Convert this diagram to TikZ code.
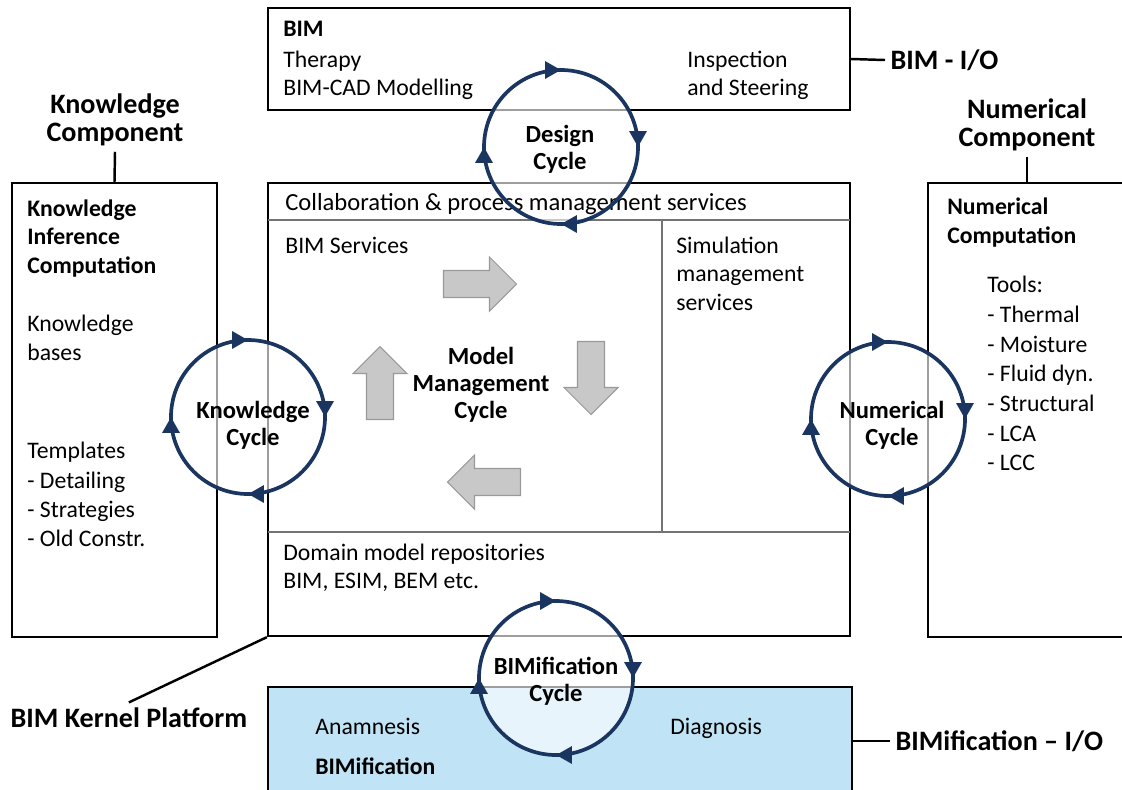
\documentclass[tikz,border=0pt]{standalone}
\usepackage{fontspec}
\setmainfont{Carlito}
\usetikzlibrary{arrows.meta,decorations.markings,fit}

\definecolor{cyclenavy}{HTML}{1B3561}
\definecolor{bimfblue}{HTML}{C0E4F5}
\definecolor{mmgray}{HTML}{C8C8C8}

\tikzset{
  box/.style={draw=black, line width=1.3pt, inner sep=0pt},
  sep/.style={draw=black!55, line width=0.7pt},
  txt/.style={inner sep=0pt, anchor=north west, align=left, font=\fontsize{13.5}{16.3}\selectfont},
  boldtxt/.style={txt, font=\fontsize{13.5}{16.5}\selectfont\bfseries},
  biglabel/.style={inner sep=3pt, align=center, font=\fontsize{16}{16}\selectfont\bfseries},
  leader/.style={line width=1.4pt},
  cyclefill/.style={fill=white, fill opacity=0.62},
  cyclering/.style={draw=cyclenavy, line width=2.1pt, postaction={decorate},
    decoration={markings,
      mark=at position 0.125 with {\arrow{Triangle[length=9pt,width=9.5pt]}},
      mark=at position 0.375 with {\arrow{Triangle[length=9pt,width=9.5pt]}},
      mark=at position 0.625 with {\arrow{Triangle[length=9pt,width=9.5pt]}},
      mark=at position 0.875 with {\arrow{Triangle[length=9pt,width=9.5pt]}}}},
  cyclelabel/.style={inner sep=0pt, align=center, font=\fontsize{14}{15.5}\selectfont\bfseries},
  mmarrow/.pic={
    \draw[fill=mmgray, draw=black!40, line width=0.6pt]
      (-36.5,-13.5) -- (9.5,-13.5) -- (9.5,-27) -- (36.5,0) -- (9.5,27) -- (9.5,13.5) -- (-36.5,13.5) -- cycle;
  }
}

\begin{document}
\begin{tikzpicture}[x=0.02cm, y=-0.02cm]
    \useasboundingbox (0,0) rectangle (1122,789);

    % boxes
    \node[box, fit={(268,8) (850,110)}] (bim) {};
    \node[box, fit={(268,183) (850,636)}] (kernel) {};
    \node[box, fit={(12,183) (217,637)}] (know) {};
    \node[box, fit={(928,183) (1160,637)}] (num) {};
    \node[box, fill=bimfblue, fit={(268,687) (852,830)}] (bimf) {};

    % kernel partitions
    \draw[sep] (268,220) -- (850,220);
    \draw[sep] (268,532) -- (850,532);
    \draw[sep] (662,220) -- (662,532);

    % model management arrows
    \pic at (480,284) {mmarrow};
    \pic[rotate=-90] at (591,378) {mmarrow};
    \pic[rotate=180] at (484,482) {mmarrow};
    \pic[rotate=90] at (380,383) {mmarrow};

    % cycle centres and fills
    \coordinate (dc) at (561,147);
    \coordinate (kc) at (248,417);
    \coordinate (bc) at (556,678);
    \coordinate (nc) at (888,419);
    \foreach \c in {dc,kc,bc,nc}
        \fill[cyclefill] (\c) circle[radius=77];

    % texts
    \node[boldtxt] (bimtitle) at (283,21) {BIM};
    \node[txt, font=\fontsize{13.5}{16}\selectfont] (therapy) at (283,51) {Therapy\\BIM-CAD Modelling};
    \node[txt, font=\fontsize{13.5}{16}\selectfont] (inspect) at (687,51) {Inspection\\and Steering};
    \node[txt, font=\fontsize{14}{16.3}\selectfont] (collab) at (285,193) {Collaboration \& process management services};
    \node[txt] (bimserv) at (285,237) {BIM Services};
    \node[txt, font=\fontsize{13.5}{16}\selectfont] (simserv) at (676,237) {Simulation\\management\\services};
    \node[cyclelabel] (mmc) at (481,385) {Model\\Management\\Cycle};
    \node[txt, font=\fontsize{13.5}{16}\selectfont] (domain) at (283,544) {Domain model repositories\\BIM, ESIM, BEM etc.};
    \node[boldtxt] (kic) at (27,199) {Knowledge\\Inference\\Computation};
    \node[txt, font=\fontsize{13.5}{16.5}\selectfont] (kbases) at (27,315) {Knowledge\\bases};
    \node[txt, font=\fontsize{13.5}{16.7}\selectfont] (templ) at (27,442) {Templates\\- Detailing\\- Strategies\\- Old Constr.};
    \node[boldtxt, font=\fontsize{13.5}{17}\selectfont\bfseries] (ncomp) at (947,197) {Numerical\\Computation};
    \node[txt, font=\fontsize{13.5}{16.9}\selectfont] (tools) at (987,276) {Tools:\\- Thermal\\- Moisture\\- Fluid dyn.\\- Structural\\- LCA\\- LCC};
    \node[txt] (anam) at (315,718) {Anamnesis};
    \node[boldtxt] (bimfname) at (315,757) {BIMification};
    \node[txt] (diag) at (670,718) {Diagnosis};

    % cycles
    \foreach \c in {dc,kc,bc,nc}
        \draw[cyclering] (\c) ++(-45:77) arc[start angle=-45, end angle=315, radius=77];
    \node[cyclelabel] (dcl) at (560,149) {Design\\Cycle};
    \node[cyclelabel] (kcl) at (253,425) {Knowledge\\Cycle};
    \node[cyclelabel] (bcl) at (556,681) {BIMification\\Cycle};
    \node[cyclelabel] (ncl) at (892,425) {Numerical\\Cycle};

    % outer labels
    \node[biglabel] (kcomp) at (115,120) {Knowledge\\Component};
    \node[biglabel] (numcomp) at (1027,125) {Numerical\\Component};
    \node[biglabel, anchor=west] (bimio) at (885,60) {BIM - I/O};
    \node[biglabel, anchor=west] (bfio) at (890,741) {BIMification -- I/O};
    \node[biglabel, anchor=west] (bkp) at (5,718) {BIM Kernel Platform};

    \draw[leader] (kcomp.south) -- (know.north);
    \draw[leader] (numcomp.south) -- (numcomp.south |- num.north);
    \draw[leader] (bim.east) -- (bimio.west);
    \draw[leader] (bfio.west -| bimf.east) -- (bfio.west);
    \draw[leader] (kernel.south west) -- (bkp.north);
\end{tikzpicture}
\end{document}
